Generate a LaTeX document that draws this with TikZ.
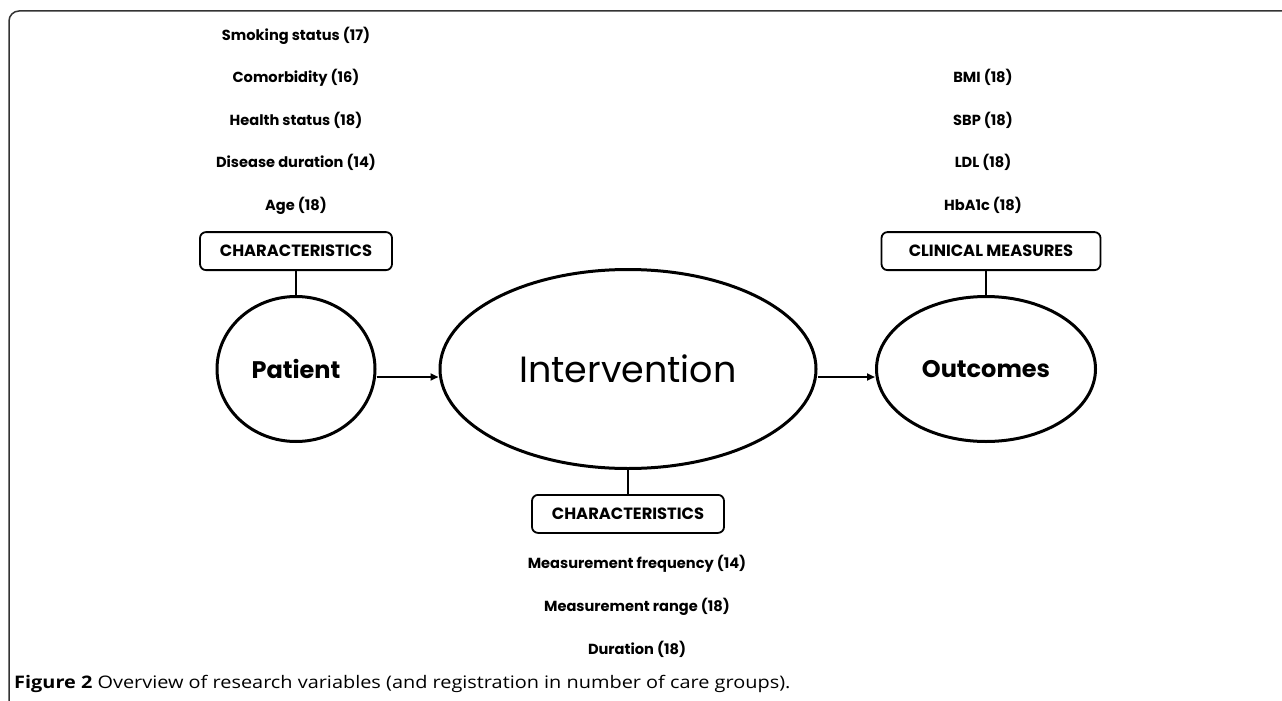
\documentclass[tikz,border=0pt]{standalone}
\usepackage{fontspec}
\setmainfont{Open Sans}[FakeStretch=1.15]
\newfontfamily\gothic{Poppins}
\usetikzlibrary{arrows.meta, positioning, shapes.geometric}

\begin{document}
\begin{tikzpicture}[x=1pt, y=-1pt,
    concept/.style={draw, ellipse, line width=3pt, inner sep=0pt, font=\gothic\bfseries\fontsize{24}{28}\selectfont},
    heading/.style={draw, rounded corners=6pt, line width=1.8pt, minimum width=192pt, minimum height=38pt, inner sep=0pt, font=\gothic\bfseries\fontsize{16.3}{18}\selectfont},
    factor/.style={inner sep=0pt, text height=12pt, text depth=4pt, font=\gothic\bfseries\fontsize{14.6}{16}\selectfont},
    link/.style={line width=2pt},
    arrow/.style={-{Triangle[length=8pt, width=7pt]}, line width=2pt},
    frame/.style={line width=1.5pt, draw=black!80, rounded corners=10pt},
    node distance=24pt
]
    \useasboundingbox (0,0) rectangle (1282,701);
    \draw[frame] (1282,11) -- (9,11) -- (9,701);

    % The three concepts
    \node[concept, minimum width=158pt, minimum height=145pt] (patient) at (296,369) {Patient};
    \node[concept, minimum width=376pt, minimum height=199pt, font=\gothic\fontsize{36.5}{40}\selectfont] (intervention) at (628,369) {Intervention};
    \node[concept, minimum width=219pt, minimum height=145pt] (outcomes) at (986,369) {Outcomes};

    % Headings
    \node[heading, above=of patient] (patchar) {CHARACTERISTICS};
    \node[heading, above=of outcomes, xshift=5pt, minimum width=219pt] (clinical) {CLINICAL MEASURES};
    \node[heading, below=of intervention] (intchar) {CHARACTERISTICS};

    % Patient characteristics
    \node[factor, above=17pt of patchar] (age) {Age (18)};
    \node[factor, above=26pt of age] (duration) {Disease duration (14)};
    \node[factor, above=26pt of duration] (health) {Health status (18)};
    \node[factor, above=26pt of health] (comorb) {Comorbidity (16)};
    \node[factor, above=26pt of comorb] (smoking) {Smoking status (17)};

    % Clinical measures
    \node[factor, above=17pt of clinical, xshift=-8pt] (hba1c) {HbA1c (18)};
    \node[factor, above=26pt of hba1c] (ldl) {LDL (18)};
    \node[factor, above=26pt of ldl] (sbp) {SBP (18)};
    \node[factor, above=26pt of sbp] (bmi) {BMI (18)};

    % Intervention characteristics
    \node[factor, below=22pt of intchar, xshift=9pt] (frequency) {Measurement frequency (14)};
    \node[factor, below=27pt of frequency] (range) {Measurement range (18)};
    \node[factor, below=27pt of range] (length) {Duration (18)};

    % Connectors
    \draw[link] (patchar) -- (patient);
    \draw[link] (intervention) -- (intchar);
    \draw[link] (outcomes.north) -- (outcomes.north |- clinical.south);
    \draw[arrow] ([yshift=-8pt]patient.east) -- ([yshift=-8pt]intervention.west);
    \draw[arrow] ([yshift=-8pt]intervention.east) -- ([yshift=-8pt]outcomes.west);

    % Caption
    \node[anchor=base west, inner sep=0pt, font=\fontsize{17.3}{21}\selectfont] (caption) at (14,688) {\textbf{Figure 2} Overview of research variables (and registration in number of care groups).};

\end{tikzpicture}
\end{document}
